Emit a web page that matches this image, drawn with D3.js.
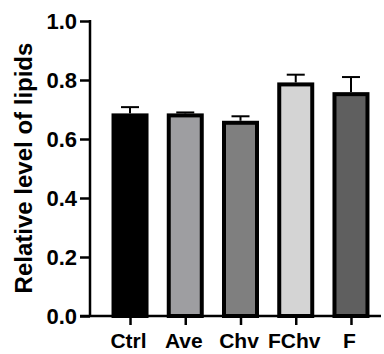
<!DOCTYPE html>
<html>
<head>
<meta charset="utf-8">
<script src="https://cdn.jsdelivr.net/npm/d3@7"></script>
<style>
  html, body { margin: 0; padding: 0; background: #fff; }
  svg { display: block; }
  text { font-family: "Liberation Sans", Arial, sans-serif; font-weight: bold; fill: #000; }
</style>
</head>
<body>
<svg id="chart" width="384" height="354"></svg>
<script>
// Group names, means and SD for the lipid assay
const groups = ["Ctrl", "Ave", "Chv", "FChv", "F"];
const means  = [0.68, 0.68, 0.655, 0.785, 0.752];
const errors = [0.028, 0.010, 0.022, 0.033, 0.058];
const fills  = ["#000000", "#9e9ea1", "#7f7f7f", "#d4d4d4", "#5f5f5f"];
const yTicks = [0.0, 0.2, 0.4, 0.6, 0.8, 1.0];
const yTitle = "Relative level of lipids";

const rows = groups.map((g, i) => ({ group: g, mean: means[i], err: errors[i], fill: fills[i] }));

const svg = d3.select("#chart");
const axisX = 90, baseY = 316, topY = 21, rightX = 381;
const font = "'Liberation Sans', Arial, sans-serif";

const y = d3.scaleLinear().domain([0, 1]).range([baseY, topY]);
const x = d3.scalePoint().domain(groups).range([102.4, 378.6]).padding(0.5);

const barW = 33, stroke = 4;

// bars
svg.append("g").selectAll("rect").data(rows).join("rect")
  .attr("x", d => x(d.group) - barW / 2)
  .attr("y", d => y(d.mean))
  .attr("width", barW)
  .attr("height", d => y(0) - y(d.mean))
  .attr("fill", d => d.fill)
  .attr("stroke", "#000")
  .attr("stroke-width", stroke);

// error bars (upper only)
const eb = svg.append("g").attr("stroke", "#000").attr("stroke-width", 2);
eb.selectAll("line.v").data(rows).join("line").attr("class", "v")
  .attr("x1", d => x(d.group)).attr("x2", d => x(d.group))
  .attr("y1", d => y(d.mean) - stroke / 2).attr("y2", d => y(d.mean + d.err));
eb.selectAll("line.c").data(rows).join("line").attr("class", "c")
  .attr("x1", d => x(d.group) - 9).attr("x2", d => x(d.group) + 9)
  .attr("y1", d => y(d.mean + d.err)).attr("y2", d => y(d.mean + d.err));

// y axis
const yAxis = d3.axisLeft(y).tickValues(yTicks).tickFormat(d3.format(".1f"))
  .tickSize(10).tickSizeOuter(0).tickPadding(3);
const gy = svg.append("g").attr("transform", `translate(${axisX},0)`).call(yAxis);
gy.attr("font-family", null).attr("font-size", null);
gy.select(".domain").attr("stroke", "#000").attr("stroke-width", 2.5)
  .attr("d", `M0,${topY - 1}V${baseY + 1}`);
gy.selectAll(".tick line").attr("stroke", "#000").attr("stroke-width", 2.5);
gy.selectAll(".tick text").attr("dy", "0.36em")
  .style("font-size", "22px").style("font-family", font).style("font-weight", "bold");

// x axis
const xAxis = d3.axisBottom(x).tickSize(9).tickSizeOuter(0).tickPadding(8);
const gx = svg.append("g").attr("transform", `translate(0,${baseY})`).call(xAxis);
gx.attr("font-family", null).attr("font-size", null);
gx.select(".domain").attr("stroke", "#000").attr("stroke-width", 2.5)
  .attr("d", `M${axisX - 10},0H${rightX}`);
gx.selectAll(".tick line").attr("stroke", "#000").attr("stroke-width", 2.5);
gx.selectAll(".tick text").attr("x", -2)
  .style("font-size", "21px").style("font-family", font).style("font-weight", "bold");

// y axis title
svg.append("text")
  .attr("transform", `translate(32,168) rotate(-90)`)
  .attr("text-anchor", "middle")
  .style("font-size", "24px")
  .text(yTitle);
</script>
</body>
</html>
